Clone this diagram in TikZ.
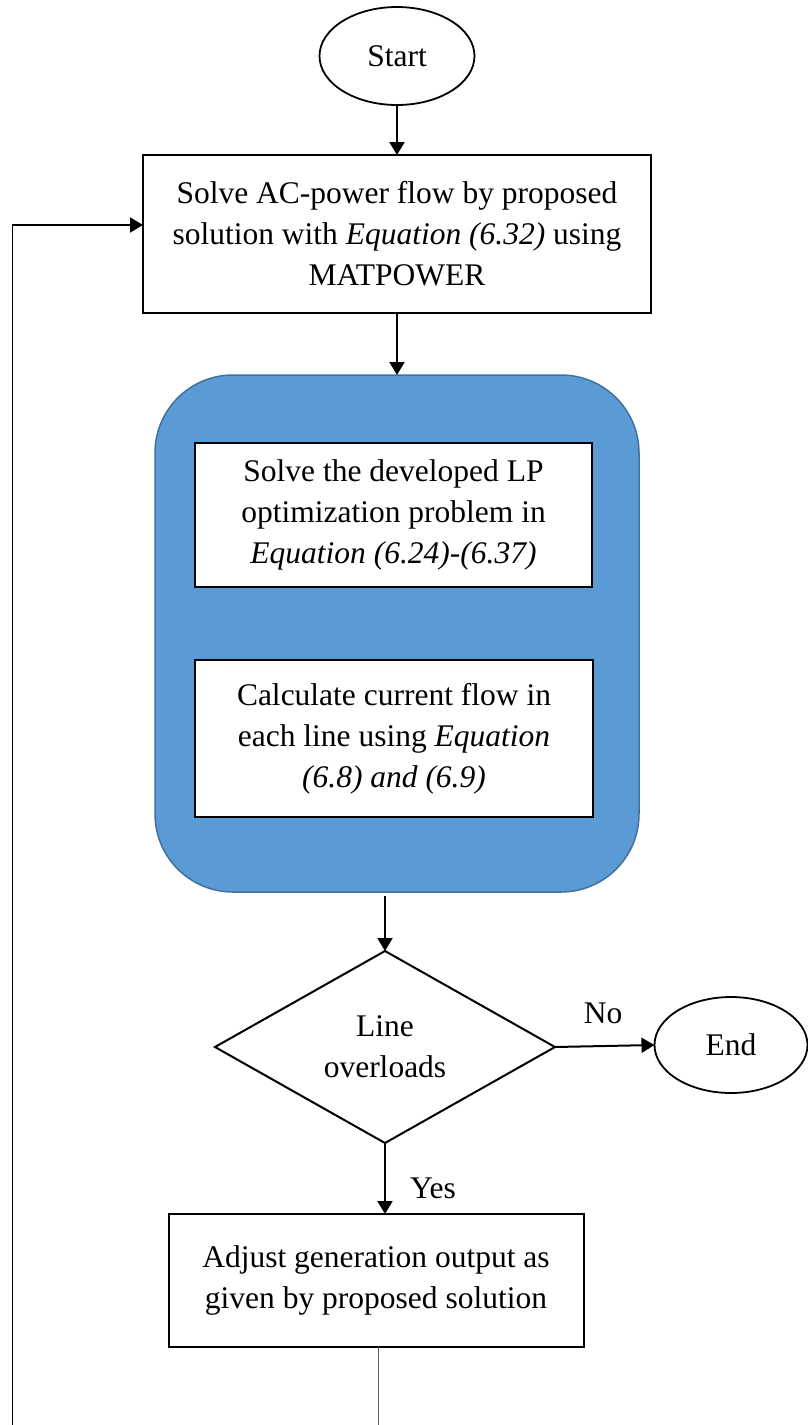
\documentclass[tikz,border=0pt]{standalone}
\usepackage{fontspec}
\setmainfont{Liberation Serif}
\usetikzlibrary{shapes.geometric,arrows.meta}
\definecolor{panelblue}{HTML}{5B9BD5}
\definecolor{paneledge}{HTML}{41719C}
\definecolor{feedgray}{HTML}{606060}
\begin{document}
\begin{tikzpicture}[x=0.5pt,y=-0.5pt,
  every node/.style={font=\fontsize{15.75pt}{20.5pt}\selectfont, inner sep=0pt, outer sep=0pt},
  procbox/.style={draw, rectangle, line width=1pt, fill=white, align=center},
  terminal/.style={draw, ellipse, line width=0.9pt, fill=white},
  decision/.style={draw, diamond, line width=1pt, align=center},
  panel/.style={draw=paneledge, fill=panelblue, line width=0.75pt, rounded corners=39pt},
  flowarrow/.style={line width=1pt, -{Triangle[length=6.5pt,width=7.5pt]}},
  feedline/.style={line width=0.5pt}]
\useasboundingbox (0,0) rectangle (808,1425);

% terminals
\node[terminal, minimum width=77.5pt, minimum height=49pt] (start) at (397,56) {Start};
\node[terminal, minimum width=76.5pt, minimum height=48pt] (finish) at (731,1045) {End};

% power flow step
\node[procbox, minimum width=254pt, minimum height=79pt] (acpf) at (397,234)
  {Solve AC-power flow by proposed\\ solution with \textit{Equation (6.32)} using\\ MATPOWER};

% optimisation panel with its two steps
\node[panel, minimum width=242pt, minimum height=258.5pt] (panel) at (397,633.5) {};
\node[procbox, minimum width=198.5pt, minimum height=72pt] (lp) at (393.5,515)
  {Solve the developed LP\\ optimization problem in\\ \textit{Equation (6.24)-(6.37)}};
\node[procbox, minimum width=199pt, minimum height=78.5pt] (cur) at (394,738.5)
  {Calculate current flow in\\ each line using \textit{Equation}\\ \textit{(6.8) and (6.9)}};

% overload check
\node[decision, minimum width=170pt, minimum height=96pt] (check) at (385,1047)
  {Line\\ overloads};

% generation adjustment
\node[procbox, minimum width=207.5pt, minimum height=66.5pt] (adjust) at (376,1280.5)
  {Adjust generation output as\\ given by proposed solution};

% branch labels
\node (no) at (603,1013) {No};
\node (yes) at (433,1188) {Yes};

% connectors
\draw[flowarrow] (start) -- (acpf);
\draw[flowarrow] (acpf.south) -- (panel.north);
\coordinate (panelout) at (385,896);
\draw[flowarrow] (panelout) -- (check.north);
\draw[flowarrow] (check.east) -- (finish.west);
\draw[flowarrow] (check.south) -- (check.south |- adjust.north);

% feedback path back to the power flow step
\coordinate (tailA) at (378,1425);
\coordinate (tailB) at (12,1425);
\coordinate (turn) at (12,225);
\draw[feedline, draw=feedgray] (adjust.south -| tailA) -- (tailA);
\draw[feedline] (tailB) -- (turn);
\draw[flowarrow] (turn) -- (turn -| acpf.west);
\end{tikzpicture}
\end{document}
